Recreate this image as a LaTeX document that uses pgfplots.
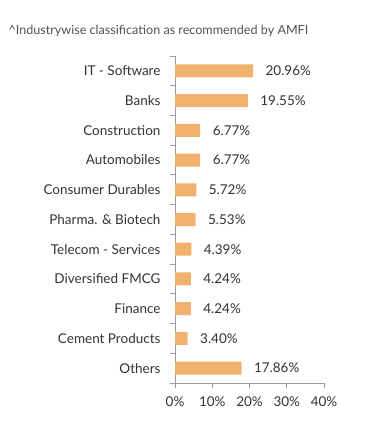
\documentclass[border=0pt]{standalone}
\usepackage{fontspec}
\setmainfont{Lato}
\usepackage{pgfplots}
\pgfplotsset{compat=1.18}
\definecolor{barc}{HTML}{F0B26E}
\definecolor{txt}{HTML}{333333}
\definecolor{axc}{HTML}{9A9A9A}
\begin{document}
\begin{tikzpicture}[x=1pt,y=1pt]
\path (0,0) rectangle (391,436);
\node[anchor=west,font=\fontsize{12.6}{14}\selectfont,text=txt!85] at (5,405) {\^{}Industrywise classification as recommended by AMFI};
\begin{axis}[
  at={(175pt,53pt)}, anchor=south west,
  scale only axis, width=149pt, height=327pt,
  xmin=0, xmax=40, ymin=-0.5, ymax=10.5,
  y dir=reverse,
  axis x line*=bottom, axis y line*=left,
  axis line style={axc, line width=1pt},
  xtick={0,10,20,30,40},
  xticklabel={\pgfmathprintnumber{\tick}\%},
  ytick={0,...,10},
  yticklabels={IT - Software, Banks, Construction, Automobiles, Consumer Durables, Pharma. \& Biotech, Telecom - Services, Diversified FMCG, Finance, Cement Products, Others},
  minor ytick={-0.5,0.5,...,10.5},
  major y tick style={draw=none},
  minor tick length=5pt,
  major tick length=5pt,
  tick align=outside,
  tick style={axc, line width=1pt},
  /pgf/number format/assume math mode=true,
  tick label style={font=\fontsize{13.5}{15}\selectfont, text=txt},
  yticklabel style={xshift=-6pt},
  xticklabel style={yshift=-5pt},
  xbar, bar width=13pt,
  clip=false,
  nodes near coords={\pgfmathprintnumber[fixed,precision=2,fixed zerofill]{\pgfplotspointmeta}\%},
  every node near coord/.append style={anchor=west, xshift=9pt, font=\fontsize{13.5}{15}\selectfont, text=txt},
]
\addplot[fill=barc, draw=none] coordinates {
(20.96,0) (19.55,1) (6.77,2) (6.77,3) (5.72,4) (5.53,5) (4.39,6) (4.24,7) (4.24,8) (3.40,9) (17.86,10)
};
\end{axis}
\end{tikzpicture}
\end{document}
